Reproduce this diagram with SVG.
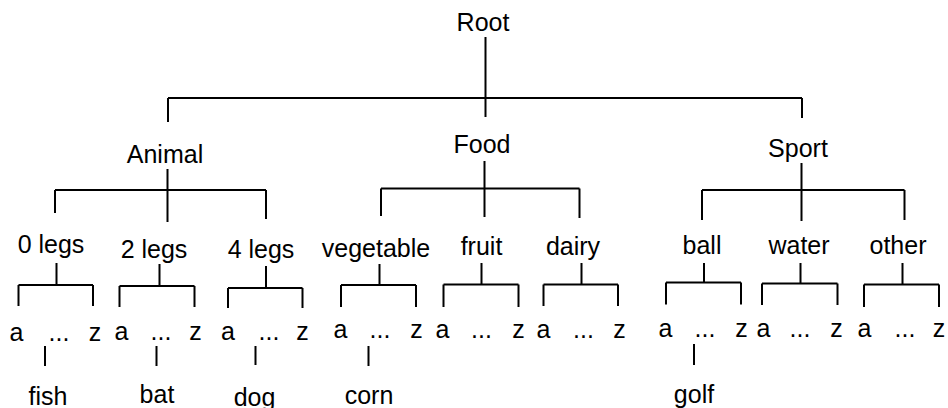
<svg xmlns="http://www.w3.org/2000/svg" width="948" height="408" viewBox="0 0 948 408">
<style>
text{font-family:"Liberation Sans",Arial,sans-serif;font-size:25px;fill:#000;text-anchor:middle}
.c path{fill:none;stroke:#000;stroke-width:2}
</style>
<rect width="948" height="408" fill="#fff"/>
<g class="c" id="connectors">
<path d="M485.5 37V117M168 98H802M168 98V122M802 98V118"/>
<path d="M167.5 169V222M55 190H266M55 190V213M266 190V219"/>
<path d="M484.5 161V217M381 188.5H579.5M381 188.5V216M579.5 188.5V218"/>
<path d="M801.5 163V221M702 190H904.5M702 190V220M904.5 190V220"/>
<path d="M56.5 263V285M18.5 285H93M18.5 285V306M93 285V306"/>
<path d="M159.5 264V286M119.5 286H194.5M119.5 286V307M194.5 286V307"/>
<path d="M266 266V288M228 288H302.5M228 288V308M302.5 288V308"/>
<path d="M379.5 264V285M341 285H416M341 285V307M416 285V307"/>
<path d="M481.5 263V284.5M443.5 284.5H518.5M443.5 284.5V307M518.5 284.5V307"/>
<path d="M581.5 263V284.5M543.5 284.5H618M543.5 284.5V306M618 284.5V306"/>
<path d="M704 263V282.5M666 282.5H741M666 282.5V304.5M741 282.5V304.5"/>
<path d="M800.5 263V283.5M762 283.5H837.5M762 283.5V305M837.5 283.5V305"/>
<path d="M902.5 263V284.5M864 284.5H939M864 284.5V307M939 284.5V307"/>
<path d="M45 346V366M156.5 346V366M255.5 346V365M368.5 346V366M694 344V365"/>
</g>
<g id="root"><text x="483" y="31">Root</text></g>
<g id="animal"><text x="165" y="163">Animal</text></g>
<g id="food"><text x="482" y="153">Food</text></g>
<g id="sport"><text x="798" y="157">Sport</text></g>
<g id="legs0"><text x="51" y="253">0 legs</text></g>
<g id="legs2"><text x="154" y="258">2 legs</text></g>
<g id="legs4"><text x="261" y="258">4 legs</text></g>
<g id="vegetable"><text x="376" y="257">vegetable</text></g>
<g id="fruit"><text x="481.5" y="255">fruit</text></g>
<g id="dairy"><text x="573" y="255">dairy</text></g>
<g id="ball"><text x="702" y="254">ball</text></g>
<g id="water"><text x="799" y="254">water</text></g>
<g id="other"><text x="898" y="254">other</text></g>
<g id="az-legs0"><text x="16.5" y="341">a</text><text x="59" y="341">...</text><text x="95" y="341">z</text></g>
<g id="az-legs2"><text x="121.5" y="340">a</text><text x="161" y="340">...</text><text x="195.5" y="340">z</text></g>
<g id="az-legs4"><text x="228" y="340">a</text><text x="269" y="340">...</text><text x="302.5" y="340">z</text></g>
<g id="az-vegetable"><text x="340.5" y="338">a</text><text x="380" y="338">...</text><text x="416.5" y="338">z</text></g>
<g id="az-fruit"><text x="442.5" y="338">a</text><text x="481.5" y="338">...</text><text x="518.5" y="338">z</text></g>
<g id="az-dairy"><text x="543.5" y="338">a</text><text x="583.5" y="338">...</text><text x="619.5" y="338">z</text></g>
<g id="az-ball"><text x="665.5" y="337">a</text><text x="705" y="337">...</text><text x="741.5" y="337">z</text></g>
<g id="az-water"><text x="763.5" y="337">a</text><text x="800" y="337">...</text><text x="836.5" y="337">z</text></g>
<g id="az-other"><text x="864.5" y="337">a</text><text x="905" y="337">...</text><text x="939" y="337">z</text></g>
<g id="fish"><text x="48" y="405">fish</text></g>
<g id="bat"><text x="157" y="403">bat</text></g>
<g id="dog"><text x="254.5" y="406">dog</text></g>
<g id="corn"><text x="369" y="404">corn</text></g>
<g id="golf"><text x="694" y="403">golf</text></g>
</svg>
